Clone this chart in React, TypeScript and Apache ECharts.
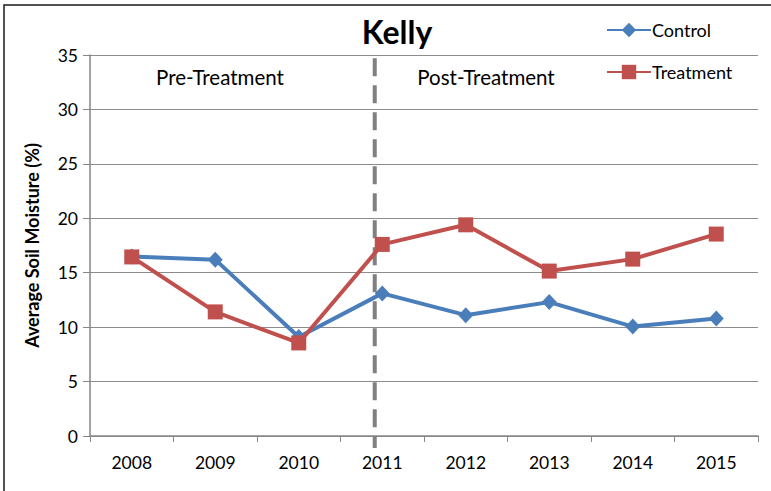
import React, { useEffect, useRef } from "react";
import * as echarts from "echarts";

const years = ["2008", "2009", "2010", "2011", "2012", "2013", "2014", "2015"];
const control = [16.5, 16.2, 9.1, 13.1, 11.1, 12.3, 10.05, 10.8];
const treatment = [16.45, 11.4, 8.55, 17.6, 19.4, 15.15, 16.25, 18.55];
const dividerPosition = 3.41; // on a 0..8 scale across the categories
const dividerRange = [34.7, -1.1];
const FONT = "Lato, 'Open Sans', sans-serif";

export default function App() {
  const ref = useRef<HTMLDivElement>(null);
  useEffect(() => {
    if (!ref.current) return;
    const chart = echarts.init(ref.current, null, { renderer: "svg" });
    chart.setOption({
      animation: false,
      backgroundColor: "#ffffff",
      title: {
        text: "Kelly",
        left: 392,
        top: 10,
        textAlign: "center",
        textStyle: { fontFamily: FONT, fontSize: 32, fontWeight: "bold", color: "#000" },
      },
      legend: {
        orient: "vertical",
        left: 601,
        top: 16,
        itemGap: 24,
        itemWidth: 44,
        itemHeight: 18,
        textStyle: { fontFamily: FONT, fontSize: 18, color: "#000", padding: [0, 0, 0, -4] },
        data: ["Control", "Treatment"],
      },
      grid: { left: 90, right: 13, top: 55, bottom: 55 },
      xAxis: [
        {
          type: "category",
          data: years,
          boundaryGap: true,
          axisLine: { lineStyle: { color: "#868686", width: 1.5 } },
          axisTick: { show: true, inside: false, length: 6, lineStyle: { color: "#868686" } },
          axisLabel: { fontFamily: FONT, fontSize: 17.5, color: "#000", margin: 17 },
          splitLine: { show: false },
        },
        {
          type: "value",
          min: 0,
          max: 8,
          show: false,
        },
      ],
      yAxis: {
        type: "value",
        min: 0,
        max: 35,
        interval: 5,
        name: "Average Soil Moisture (%)",
        nameLocation: "middle",
        nameGap: 49,
        nameTextStyle: { fontFamily: FONT, fontSize: 18, fontWeight: "bold", color: "#000" },
        axisLine: { show: true, lineStyle: { color: "#868686", width: 1.5 } },
        axisTick: { show: true, inside: false, length: 7, lineStyle: { color: "#868686" } },
        axisLabel: { fontFamily: FONT, fontSize: 17.5, color: "#000", margin: 12 },
        splitLine: { show: true, lineStyle: { color: "#8c8c8c", width: 1.2 } },
      },
      series: [
        {
          name: "divider",
          type: "line",
          xAxisIndex: 1,
          data: dividerRange.map((v) => [dividerPosition, v]),
          symbol: "none",
          clip: false,
          silent: true,
          lineStyle: { type: [18, 9], color: "#808080", width: 4 },
          z: 2,
        },
        {
          name: "Control",
          type: "line",
          data: control,
          color: "#4A7EBB",
          symbol: "diamond",
          symbolSize: [15, 16],
          lineStyle: { width: 4, color: "#4A7EBB" },
          itemStyle: { color: "#4A7EBB" },
          z: 3,
        },
        {
          name: "Treatment",
          type: "line",
          data: treatment,
          color: "#C0504D",
          symbol: "rect",
          symbolSize: 15,
          lineStyle: { width: 4, color: "#C0504D" },
          itemStyle: { color: "#C0504D" },
          z: 4,
        },
      ],
      graphic: [
        {
          type: "rect",
          shape: { x: 4, y: 5, width: 800, height: 520 },
          style: { fill: "none", stroke: "#1a1a1a", lineWidth: 1.5 },
          silent: true,
          z: 100,
        },
        {
          type: "text",
          x: 220,
          y: 77,
          style: {
            text: "Pre-Treatment",
            fontFamily: FONT,
            fontSize: 20.5,
            fill: "#000",
            textAlign: "center",
            textVerticalAlign: "middle",
          },
        },
        {
          type: "text",
          x: 486,
          y: 77,
          style: {
            text: "Post-Treatment",
            fontFamily: FONT,
            fontSize: 20.5,
            fill: "#000",
            textAlign: "center",
            textVerticalAlign: "middle",
          },
        },
      ],
    });
    return () => chart.dispose();
  }, []);
  return (
    <div
      ref={ref}
      style={{ position: "fixed", left: 0, top: 0, width: 771, height: 491 }}
    />
  );
}
